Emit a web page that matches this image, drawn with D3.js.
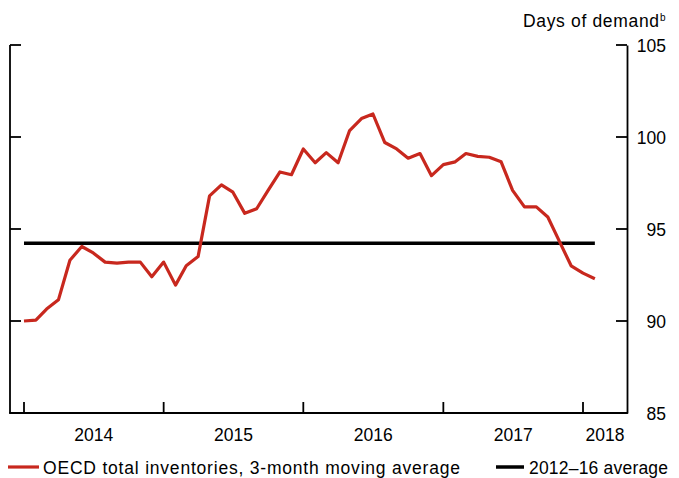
<!DOCTYPE html>
<html>
<head>
<meta charset="utf-8">
<script src="https://cdn.jsdelivr.net/npm/d3@7"></script>
<style>
  body { margin: 0; background: #fff; }
  text { font-family: "Liberation Sans", Arial, sans-serif; fill: #000; }
</style>
</head>
<body>
<div id="chart"></div>
<script>
// monthly values, Jan 2014 - Feb 2018
const inventories = [90.0, 90.05, 90.65, 91.15, 93.3, 94.05, 93.7, 93.2, 93.15, 93.2,
  93.2, 92.4, 93.2, 91.95, 93.0, 93.5, 96.8, 97.4, 97.0, 95.85,
  96.1, 97.1, 98.1, 97.95, 99.35, 98.6, 99.15, 98.6, 100.35, 101.0,
  101.25, 99.7, 99.35, 98.85, 99.1, 97.9, 98.5, 98.65, 99.1, 98.95,
  98.9, 98.65, 97.1, 96.2, 96.2, 95.65, 94.3, 93.0, 92.6, 92.3];
const average = 94.22;
const years = [2014, 2015, 2016, 2017, 2018];
const yTicks = [85, 90, 95, 100, 105];
const legendLabels = ["OECD total inventories, 3-month moving average", "2012\u201316 average"];

const chartW = 679, chartH = 478;
const plotL = 10, plotR = 627, plotT = 45, plotB = 413;
const red = "#c8281e";
const fs = "17.5px";

const months = d3.timeMonth.range(new Date(2014, 0, 1), new Date(2018, 2, 1));

let svg = d3.select("#chart")
    .append("svg")
    .attr("width", chartW)
    .attr("height", chartH);

let x = d3.scaleTime()
    .domain([new Date(2014, 0, 1), new Date(2018, 0, 1)])
    .range([24, 583]);

let y = d3.scaleLinear()
    .domain([85, 105])
    .range([plotB, plotT]);

// left frame line
svg.append("line")
    .attr("x1", plotL).attr("x2", plotL)
    .attr("y1", plotT).attr("y2", plotB)
    .attr("stroke", "#000").attr("stroke-width", 1.8);

// right axis, labels only from d3, ticks drawn inward below
let yAxisR = svg.append("g")
    .attr("transform", "translate(" + plotR + ",0)")
    .call(d3.axisRight(y).tickValues(yTicks).tickSize(0).tickPadding(0));
yAxisR.select(".domain").attr("stroke-width", 1.8);
yAxisR.selectAll("text")
    .attr("x", 39)
    .attr("dy", "0.36em")
    .style("text-anchor", "end")
    .style("font-size", fs)
    .style("font-family", "'Liberation Sans', Arial, sans-serif");
yAxisR.selectAll(".tick line").remove();

svg.selectAll("rtick")
    .data(yTicks.slice(1))
    .enter()
    .append("line")
    .attr("x1", plotR - 11).attr("x2", plotR)
    .attr("y1", function(d) { return y(d); })
    .attr("y2", function(d) { return y(d); })
    .attr("stroke", "#000").attr("stroke-width", 1.8);

svg.selectAll("ltick")
    .data(yTicks.slice(1))
    .enter()
    .append("line")
    .attr("x1", plotL).attr("x2", plotL + 11)
    .attr("y1", function(d) { return y(d); })
    .attr("y2", function(d) { return y(d); })
    .attr("stroke", "#000").attr("stroke-width", 1.8);

// bottom axis
svg.append("line")
    .attr("x1", plotL - 0.9).attr("x2", plotR + 0.9)
    .attr("y1", plotB).attr("y2", plotB)
    .attr("stroke", "#000").attr("stroke-width", 1.8);

svg.selectAll("xtick")
    .data(years)
    .enter()
    .append("line")
    .attr("x1", function(d) { return x(new Date(d, 0, 1)); })
    .attr("x2", function(d) { return x(new Date(d, 0, 1)); })
    .attr("y1", plotB - 11).attr("y2", plotB)
    .attr("stroke", "#000").attr("stroke-width", 1.8);

svg.selectAll("xlabel")
    .data(years)
    .enter()
    .append("text")
    .attr("x", function(d) {
        let a = x(new Date(d, 0, 1));
        let b = d < 2018 ? x(new Date(d + 1, 0, 1)) : plotR;
        return (a + b) / 2;
    })
    .attr("y", 440.5)
    .style("text-anchor", "middle")
    .style("font-size", fs)
    .text(function(d) { return d; });

// unit label
svg.append("text")
    .attr("x", 523)
    .attr("y", 27)
    .attr("textLength", 136)
    .attr("lengthAdjust", "spacing")
    .style("font-size", fs)
    .text("Days of demand");
svg.append("text")
    .attr("x", 660)
    .attr("y", 21)
    .style("font-size", "10px")
    .text("b");

// average line
svg.append("line")
    .attr("x1", x(months[0]))
    .attr("x2", x(months[months.length - 1]))
    .attr("y1", y(average))
    .attr("y2", y(average))
    .attr("stroke", "#000")
    .attr("stroke-width", 3.5);

// inventories line
let line = d3.line()
    .x(function(d, i) { return x(months[i]); })
    .y(function(d) { return y(d); });

svg.append("path")
    .datum(inventories)
    .attr("d", line)
    .attr("fill", "none")
    .attr("stroke", red)
    .attr("stroke-width", 3.2)
    .attr("stroke-linejoin", "round");

// legend
svg.append("line")
    .attr("x1", 8).attr("x2", 39)
    .attr("y1", 467).attr("y2", 467)
    .attr("stroke", red).attr("stroke-width", 3.2);
svg.append("text")
    .attr("x", 43).attr("y", 473.5)
    .attr("textLength", 417)
    .attr("lengthAdjust", "spacing")
    .style("font-size", fs)
    .text(legendLabels[0]);

svg.append("line")
    .attr("x1", 496).attr("x2", 524)
    .attr("y1", 467).attr("y2", 467)
    .attr("stroke", "#000").attr("stroke-width", 3.5);
svg.append("text")
    .attr("x", 529).attr("y", 473.5)
    .attr("textLength", 139)
    .attr("lengthAdjust", "spacing")
    .style("font-size", fs)
    .text(legendLabels[1]);
</script>
</body>
</html>
